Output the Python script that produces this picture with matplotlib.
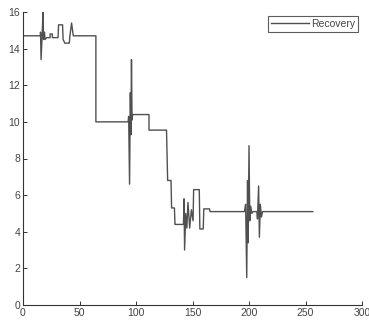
import matplotlib
matplotlib.use("Agg")
import matplotlib.pyplot as plt

# Recovery series (x, y)
x_vals = [0, 15.5, 15.5, 16, 17, 17.7, 18.2, 19, 19.5, 21, 24, 24, 26, 26, 31, 31.5, 35, 35.5, 37, 41,
          41.5, 43, 44.5, 64.5, 64.5, 93, 93.5, 94.3, 95, 95.5, 96, 96.5, 97, 111.5, 111.5, 127, 128,
          131, 131.5, 134, 134.5, 142, 142.5, 143, 144, 145, 146, 147.5, 149, 150.5, 151, 156, 156.5,
          159.5, 160, 165, 165.5, 196, 197, 198, 198.7, 199.3, 200, 200.7, 201.5, 202.5, 203.5, 207,
          207.5, 208.5, 209.2, 210, 211, 212, 256.5]
y_vals = [14.7, 14.7, 14.9, 13.4, 14.8, 16.0, 14.5, 14.9, 14.5, 14.6, 14.6, 14.8, 14.8, 14.6, 14.6, 15.3,
          15.3, 14.5, 14.3, 14.3, 14.7, 15.4, 14.7, 14.7, 10.0, 10.0, 10.3, 6.6, 11.6, 9.3, 13.4, 10.1,
          10.4, 10.4, 9.55, 9.55, 6.8, 6.8, 5.3, 5.3, 4.4, 4.4, 5.8, 3.0, 5.0, 4.2, 5.6, 4.2, 5.2, 4.6,
          6.3, 6.3, 4.15, 4.15, 5.25, 5.25, 5.1, 5.1, 5.5, 1.5, 6.8, 3.4, 8.7, 4.6, 5.4, 5.0, 5.1, 5.1,
          4.7, 6.5, 3.7, 5.5, 4.8, 5.1, 5.1]
series_label = "Recovery"
x_ticks = [0, 50, 100, 150, 200, 250, 300]
y_ticks = [0, 2, 4, 6, 8, 10, 12, 14, 16]

plt.rcParams['font.family'] = ['Liberation Sans', 'DejaVu Sans']

fig = plt.figure(figsize=(3.69, 3.27), dpi=100)
ax = fig.add_axes([23/369, 22/327, 339/369, 293/327])
ax.plot(x_vals, y_vals, color='#505050', linewidth=1.0, label=series_label)
ax.set_xlim(0, 300)
ax.set_ylim(0, 16)
ax.set_xticks(x_ticks)
ax.set_yticks(y_ticks)
ax.spines['top'].set_visible(False)
ax.spines['right'].set_visible(False)
for s in ['left', 'bottom']:
    ax.spines[s].set_color('#333333')
    ax.spines[s].set_linewidth(0.8)
ax.tick_params(direction='in', length=3, width=0.7, labelsize=7.5, colors='#333333', pad=2)
for lbl in ax.get_xticklabels() + ax.get_yticklabels():
    lbl.set_color('#444444')
leg = ax.legend(loc='upper right', bbox_to_anchor=(358/369, 1 - 16/327), bbox_transform=fig.transFigure,
                fontsize=7.5, frameon=True, fancybox=False, handlelength=3.6, handletextpad=0.2,
                borderpad=0.3, borderaxespad=0)
leg.get_frame().set_edgecolor('#333333')
leg.get_frame().set_linewidth(0.8)
for t in leg.get_texts():
    t.set_color('#444444')
fig.savefig('out.png', dpi=100)
